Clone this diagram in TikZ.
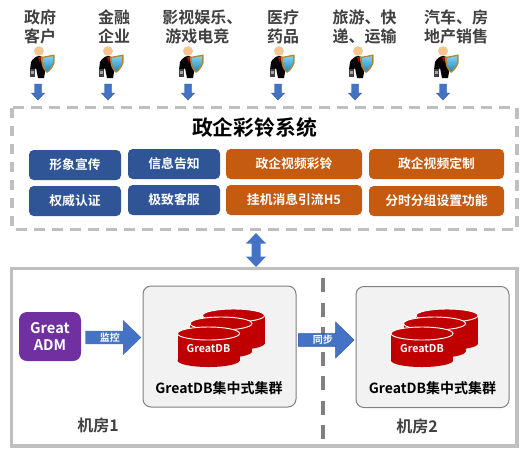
\documentclass[tikz,border=0pt]{standalone}
\usepackage{fontspec}
\setmainfont{Noto Sans CJK SC}[BoldFont={Noto Sans CJK SC Bold}]
\usetikzlibrary{shapes.arrows,calc}
\definecolor{dk}{HTML}{404040}
\definecolor{gb}{HTML}{BFBFBF}
\definecolor{bl}{HTML}{4472C4}
\definecolor{nv}{HTML}{2F5597}
\definecolor{or}{HTML}{C55A11}
\definecolor{pu}{HTML}{7030A0}
\definecolor{rd}{HTML}{C00000}
\definecolor{shtop}{HTML}{7FD0EE}
\definecolor{shbot}{HTML}{1E88C8}
\definecolor{shrim}{HTML}{B5852F}
\definecolor{skin}{HTML}{F5C48F}
\tikzset{
 x=0.75pt,y=-0.75pt,
 lab/.style={font=\fontsize{12pt}{14.25pt}\selectfont\bfseries,text=dk,align=center,inner sep=0},
 btn/.style={rounded corners=3.5pt,text=white,font=\fontsize{9.6pt}{11pt}\selectfont\bfseries,inner sep=0,minimum height=22.5pt},
 dnarrow/.style={fill=bl,draw=nv,line width=.3pt},
 cl/.style={rounded corners=6pt,fill=black!5,draw=black!50,line width=.75pt,minimum width=114.75pt,minimum height=90.75pt,inner sep=0},
 cltxt/.style={font=\fontsize{10.5pt}{12pt}\selectfont\bfseries,text=black,inner sep=0},
 rar/.style={fill=bl,single arrow,single arrow tip angle=88,inner sep=0,text=white,font=\fontsize{7.5pt}{9pt}\selectfont\bfseries,minimum height=42pt,anchor=tail},
 room/.style={font=\fontsize{12pt}{14pt}\selectfont\bfseries,text=dk,inner sep=0},
}
\newcommand{\person}[1]{%
 \begin{scope}[shift={(#1,0)}]
 \fill[black] (-8,62) .. controls (-6,58) and (-2,56) .. (0,56) .. controls (5,56) and (7,60) .. (7,66) -- (5,78) -- (-1,78) -- (-3,68) -- (-6,72) -- (-9,70) -- cycle;
 \fill[black!75] (-9.5,69) rectangle (-4,77);
 \fill[black!35] (-8,71) rectangle (-5.5,74);
 \fill[rd] (-1,57) -- (2,57) -- (1,63) -- cycle;
 \fill[skin] (0,51) ellipse (5 and 4.8);
 \fill[shrim] (2,57) -- (15.5,54.5) -- (15.5,63) .. controls (14,68) and (11,71) .. (8,73) .. controls (4,70) and (2,65) .. cycle;
 \shade[top color=shtop,bottom color=shbot] (3.8,58) -- (14,56.2) -- (14,62.5) .. controls (12.5,66.5) and (10.5,69) .. (8,71.2) .. controls (5.5,68.5) and (4,64) .. cycle;
 \end{scope}}
\newcommand{\dbcyl}[3]{% x centre, y of the top ellipse, height
 \fill[rd] (#1-31,#2) rectangle (#1+31,#2+#3);
 \fill[rd] (#1,#2+#3) ellipse (31 and 6.5);
 \fill[rd,draw=white,line width=.7pt] (#1,#2) ellipse (31 and 6.5);
}
\newcommand{\dbstack}[1]{%
 \begin{scope}[shift={(#1,0)}]
 \dbcyl{25}{315.5}{28}
 \dbcyl{12.5}{323.5}{28}
 \dbcyl{0}{333.5}{27}
 \node[text=white,inner sep=0,font=\fontsize{8pt}{9pt}\selectfont\bfseries] at (0,349) {GreatDB};
 \end{scope}}
\begin{document}
\begin{tikzpicture}
\useasboundingbox (0,0) rectangle (530,457);
\fill[white] (0,0) rectangle (530,457);
% top labels
\node[lab] (l1) at (40,26.5) {政府\\客户};
\node[lab] (l2) at (114,26.5) {金融\\企业};
\node[lab,align=left,anchor=west] (l3) at (162,26.5) {影视娱乐、\\\hspace*{2.25pt}游戏电竞};
\node[lab] (l4) at (283,26.5) {医疗\\药品};
\node[lab] (l5) at (364.5,26.5) {旅游、快\\递、运输};
\node[lab] (l6) at (456,26.5) {汽车、房\\地产销售};
\foreach \c/\d in {39/38,108/108,188/188,279/278,358/355,443/443}{
 \person{\c}
 \fill[dnarrow] (\d-3.5,84) -- (\d+3.5,84) -- (\d+3.5,93) -- (\d+6.5,93) -- (\d,100) -- (\d-6.5,93) -- (\d-3.5,93) -- cycle;
}
% system box
\draw[gb,line width=2.7pt,dash pattern=on 8pt off 5.5pt] (12,107.5) rectangle (517,229.5);
\node[font=\fontsize{15.6pt}{18pt}\selectfont\bfseries,inner sep=0] (sys) at (254.5,128) {政企彩铃系统};
\node[btn,fill=nv,minimum width=69pt] (b1) at (75,165) {形象宣传};
\node[btn,fill=nv,minimum width=69pt] (b2) at (174,164) {信息告知};
\node[btn,fill=or,minimum width=102pt] (b3) at (294,164) {政企视频彩铃};
\node[btn,fill=or,minimum width=101.25pt] (b4) at (436.5,164) {政企视频定制};
\node[btn,fill=nv,minimum width=69pt] (b5) at (75,201) {权威认证};
\node[btn,fill=nv,minimum width=69pt] (b6) at (174,200) {极致客服};
\node[btn,fill=or,minimum width=102pt] (b7) at (294,200) {挂机消息引流H5};
\node[btn,fill=or,minimum width=101.25pt] (b8) at (436.5,201) {分时分组设置功能};
% double arrow
\fill[bl] (256,233) -- (266,243.5) -- (260.5,243.5) -- (260.5,256.5) -- (266,256.5) -- (256,267) -- (246,256.5) -- (251.5,256.5) -- (251.5,243.5) -- (246,243.5) -- cycle;
% bottom box
\draw[gb,line width=2.7pt] (11.5,268.5) rectangle (517,446);
\draw[black!50,line width=3.4pt,dash pattern=on 10.5pt off 7.9pt] (323,278) -- (323,440);
\node[rounded corners=6pt,fill=pu,text=white,align=center,minimum width=46.5pt,minimum height=36.75pt,inner sep=0,font=\fontsize{11pt}{12.75pt}\selectfont\bfseries] (adm) at (50,336.5) {Great\\ADM};
\node[cl] (c1) at (219.5,346.5) {};
\node[cl] (c2) at (432.5,347) {};
\node[rar,minimum width=26.25pt,single arrow head extend=6pt] (a1) at (85,337.5) {监控};
\node[rar,minimum width=27pt,single arrow head extend=6.75pt,draw=nv,line width=.3pt] (a2) at (298,340) {同步};
\dbstack{208.5}
\dbstack{422}
\node[cltxt] (t1) at (219,388) {GreatDB集中式集群};
\node[cltxt] (t2) at (432.5,388) {GreatDB集中式集群};
\node[room] (r1) at (98,425) {机房1};
\node[room] (r2) at (417,426) {机房2};
\end{tikzpicture}
\end{document}
